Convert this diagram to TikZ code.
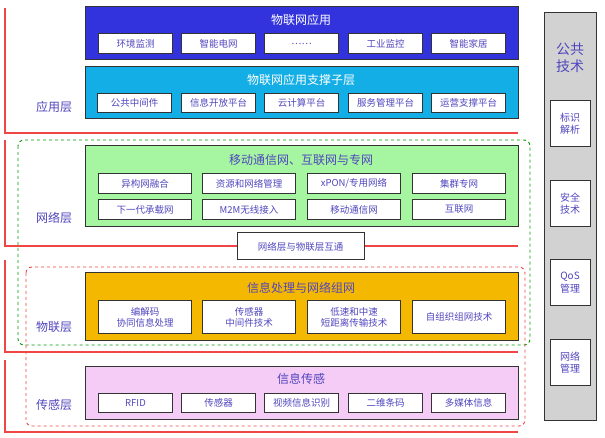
\documentclass[tikz,border=0pt]{standalone}
\usepackage{fontspec}
\setmainfont{Noto Sans CJK SC}
\usetikzlibrary{positioning}
\definecolor{appblue}{RGB}{51, 51, 221}
\definecolor{supportcyan}{RGB}{19, 174, 230}
\definecolor{netgreen}{RGB}{166, 245, 160}
\definecolor{iotorange}{RGB}{245, 184, 0}
\definecolor{sensepink}{RGB}{245, 204, 245}
\definecolor{labelpurple}{RGB}{80, 70, 190}
\definecolor{layerred}{RGB}{240, 70, 70}
\definecolor{paneltgray}{RGB}{210, 210, 210}
\tikzset{
  layerbox/.style={draw=black!80, line width=1pt},
  itembox/.style={draw=black!80, line width=1pt, fill=white, text=labelpurple, font=\fontsize{9.5}{11}\selectfont, align=center, inner sep=0pt},
  layerline/.style={draw=layerred, line width=1.2pt},
  layername/.style={text=labelpurple, font=\fontsize{12}{14}\selectfont}
}
\begin{document}
\begin{tikzpicture}[x=1pt, y=-1pt]
            \useasboundingbox[fill=white] (0,0) rectangle (605,438);
            % layer borders
            \draw[layerline] (5,8) -- (5,133) -- (518,133);
            \draw[layerline] (5,140) -- (5,246) -- (518,246);
            \draw[layerline] (5,260) -- (5,352) -- (518,352);
            \draw[layerline] (5,360) -- (5,432) -- (518,432);
            \draw[green!60!black, dashed, line width=0.9pt, rounded corners=6pt] (18,140) rectangle (530,345);
            \draw[layerred, dashed, line width=0.9pt, rounded corners=6pt] (26,267) rectangle (525,426);
            
            % application
            \draw[layerbox, fill=appblue] (85,7) rectangle (518,60);
            \node[white, font=\fontsize{12}{14}\selectfont] (apptitle) at (301,20) {物联网应用};
            \foreach \x/\txt [count=\i] in {98/环境监测, 181/智能电网, 264/\dots\dots, 348/工业监控, 431/智能家居}
              \node[itembox, minimum width=74pt, minimum height=20pt, anchor=north west] (app\i) at (\x,33) {\txt};
            
            \draw[layerbox, fill=supportcyan] (85,67) rectangle (518,119);
            \node[white, font=\fontsize{12}{14}\selectfont] (suptitle) at (301,80) {物联网应用支撑子层};
            \foreach \x/\txt [count=\i] in {97/公共中间件, 181/信息开放平台, 264/云计算平台, 348/服务管理平台, 431/运营支撑平台}
              \node[itembox, minimum width=74pt, minimum height=19pt, anchor=north west] (sup\i) at (\x,93) {\txt};
            \node[layername] (applayer) at (54,107) {应用层};
            
            % network
            \draw[layerbox, fill=netgreen] (85,146) rectangle (518,227);
            \node[text=labelpurple, font=\fontsize{12}{14}\selectfont] (nettitle) at (301,160) {移动通信网、互联网与专网};
            \foreach \x/\txt [count=\i] in {98/异构网融合, 202/资源和网络管理, 307/{xPON/专用网络}, 412/集群专网}
              \node[itembox, minimum width=93pt, minimum height=20pt, anchor=north west] (neta\i) at (\x,173) {\txt};
            \foreach \x/\txt [count=\i] in {98/下一代承载网, 202/M2M无线接入, 307/移动通信网, 412/互联网}
              \node[itembox, minimum width=93pt, minimum height=20pt, anchor=north west] (netb\i) at (\x,199) {\txt};
            \node[layername] (netlayer) at (54,218) {网络层};
            \node[itembox, minimum width=127pt, minimum height=27pt] (bridge) at (300.5,246.5) {网络层与物联层互通};
            
            % iot
            \draw[layerbox, fill=iotorange] (85,273) rectangle (518,340);
            \node[text=labelpurple, font=\fontsize{12}{14}\selectfont] (iottitle) at (301,288) {信息处理与网络组网};
            \foreach \x/\txt [count=\i] in {98/编解码\\协同信息处理, 202/传感器\\中间件技术, 307/低速和中速\\短距离传输技术, 412/自组织组网技术}
              \node[itembox, minimum width=93pt, minimum height=33pt, anchor=north west] (iot\i) at (\x,300) {\txt};
            \node[layername] (iotlayer) at (54,327) {物联层};
            
            % sensing
            \draw[layerbox, fill=sensepink] (85,366) rectangle (518,419);
            \node[text=labelpurple, font=\fontsize{12}{14}\selectfont] (sentitle) at (301,379) {信息传感};
            \foreach \x/\txt [count=\i] in {98/RFID, 181/传感器, 264/视频信息识别, 348/二维条码, 431/多媒体信息}
              \node[itembox, minimum width=74pt, minimum height=19pt, anchor=north west] (sen\i) at (\x,393) {\txt};
            \node[layername] (senlayer) at (54,405) {传感层};
            
            % common technology
            \draw[layerbox, fill=paneltgray] (544,13) rectangle (596,420);
            \node[text=labelpurple, font=\fontsize{14}{17}\selectfont, align=center] (common) at (570,58) {公共\\技术};
            \foreach \y/\txt [count=\i] in {100/标识\\解析, 180/安全\\技术, 259/QoS\\管理, 339/网络\\管理}
              \node[itembox, font=\fontsize{10}{12.5}\selectfont, minimum width=40pt, minimum height=46pt, anchor=north] (tech\i) at (570,\y) {\txt};
        \end{tikzpicture}
\end{document}
